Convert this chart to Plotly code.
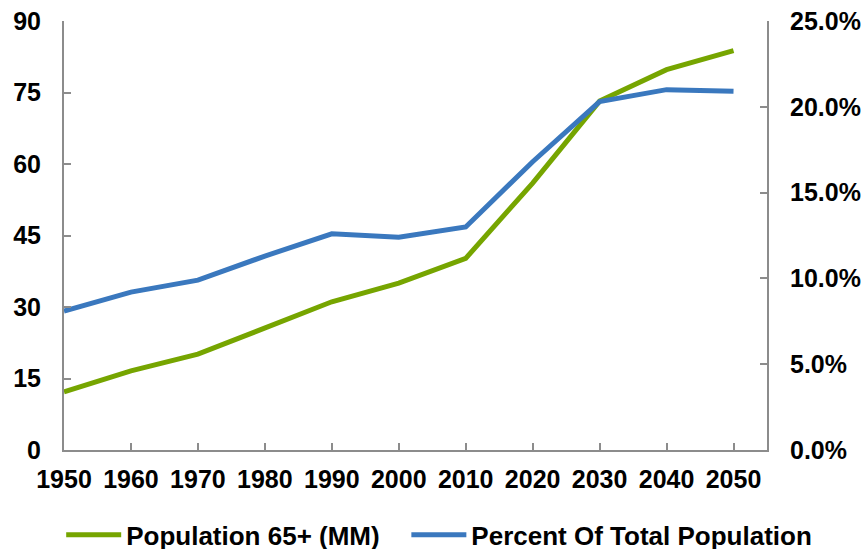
import plotly.graph_objects as go

years = [1950, 1960, 1970, 1980, 1990, 2000, 2010, 2020, 2030, 2040, 2050]
pop65_mm = [12.2, 16.6, 20.1, 25.6, 31.1, 35.0, 40.2, 56.0, 73.2, 79.8, 83.8]
pct_total = [0.081, 0.092, 0.099, 0.113, 0.126, 0.124, 0.130, 0.168, 0.203, 0.210, 0.209]

left_ticks = [0, 15, 30, 45, 60, 75, 90]
right_ticks = [0, 0.05, 0.10, 0.15, 0.20, 0.25]

GREEN = "#76A500"
BLUE = "#3A78BE"
AXIS = "#8C8C8C"
FONT = dict(family="Liberation Sans, Arial, sans-serif", size=25, color="black")

fig = go.Figure()
fig.add_trace(go.Scatter(x=years, y=pop65_mm, mode="lines",
                         name="<b>Population 65+ (MM)</b>\u00a0\u00a0\u00a0",
                         line=dict(color=GREEN, width=5)))
fig.add_trace(go.Scatter(x=years, y=pct_total, mode="lines", name="<b>Percent Of Total Population</b>",
                         line=dict(color=BLUE, width=5), yaxis="y2"))

fig.update_layout(
    width=867, height=549,
    margin=dict(l=64, r=100, t=21, b=99, autoexpand=False),
    paper_bgcolor="white", plot_bgcolor="white",
    font=FONT,
    showlegend=True,
    legend=dict(orientation="h", xref="paper", yref="paper",
                x=-0.004, xanchor="left", y=-0.198, yanchor="middle",
                font=dict(family="Liberation Sans, Arial, sans-serif", size=26, color="black"),
                itemwidth=55, tracegroupgap=0, bgcolor="rgba(0,0,0,0)"),
    xaxis=dict(range=[1950, 2055], tickvals=years, ticktext=[f"<b>{y}</b>" for y in years],
               showgrid=False, zeroline=False, showline=True, linecolor=AXIS, linewidth=2,
               ticks="inside", ticklen=7, tickcolor=AXIS, tickwidth=1.5,
               tickfont=FONT, ticklabelstandoff=6),
    yaxis=dict(range=[0, 90], tickvals=left_ticks, ticktext=[f"<b>{v}</b>" for v in left_ticks],
               showgrid=False, zeroline=False, showline=True, linecolor=AXIS, linewidth=2,
               ticks="inside", ticklen=7, tickcolor=AXIS, tickwidth=1.5,
               tickfont=FONT, ticklabelstandoff=16),
    yaxis2=dict(range=[0, 0.25], overlaying="y", side="right", anchor="x",
                tickvals=right_ticks, ticktext=[f"<b>{v*100:.1f}%</b>" for v in right_ticks],
                showgrid=False, zeroline=False, showline=True, linecolor=AXIS, linewidth=2,
                ticks="inside", ticklen=7, tickcolor=AXIS, tickwidth=1.5,
                tickfont=FONT, ticklabelstandoff=16),
)

fig.write_html("out.html")
